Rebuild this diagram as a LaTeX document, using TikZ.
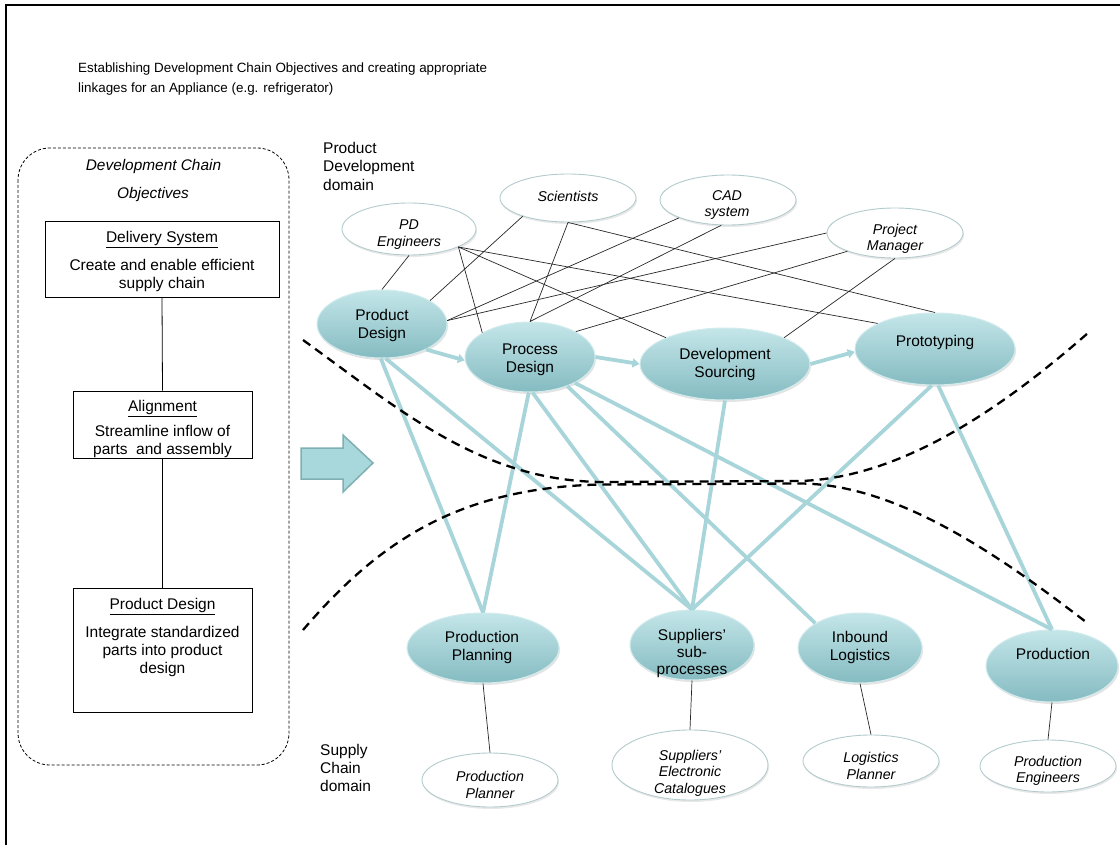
\documentclass[tikz,border=0pt]{standalone}
\usepackage{fontspec}
\setmainfont{Liberation Sans}
\usetikzlibrary{shapes.geometric,arrows.meta,shadows}

\definecolor{teallight}{HTML}{C4E6E9}
\definecolor{tealdark}{HTML}{84BBC1}
\definecolor{tealrim}{HTML}{D2EBED}
\definecolor{tealline}{HTML}{A8D5D9}
\definecolor{arrowfill}{HTML}{A9D8DC}
\definecolor{arrowedge}{HTML}{80AFB3}
\definecolor{ovalrim}{HTML}{B3CBCD}

\begin{document}
\begin{tikzpicture}[x=1pt,y=-1pt,
  tealoval/.style={ellipse, inner sep=0, top color=teallight, bottom color=tealdark,
    draw=tealrim, line width=1,
    drop shadow={opacity=0.22, shadow xshift=1pt, shadow yshift=-2pt}},
  whiteoval/.style={ellipse, inner sep=0, fill=white, draw=ovalrim, line width=0.9,
    drop shadow={opacity=0.18, shadow xshift=1pt, shadow yshift=-2pt}},
  tasklabel/.style={font=\fontsize{15.5}{18}\selectfont, align=center, inner sep=0},
  rolelabel/.style={font=\fontsize{14.2}{16.5}\selectfont\itshape, align=center, inner sep=0},
  plain/.style={font=\fontsize{15.5}{18.5}\selectfont, align=left, inner sep=0},
  boxhead/.style={font=\fontsize{15.5}{18}\selectfont, inner sep=0, anchor=base},
  boxbody/.style={font=\fontsize{15.5}{18}\selectfont, align=center, inner sep=0},
  objbox/.style={draw, line width=0.8, inner sep=0},
  link/.style={black!85, line width=0.7},
  flow/.style={tealline, line width=3.8},
  flowarrow/.style={flow, -{Triangle[length=7pt,width=9pt]}},
  boundary/.style={line width=2.3, dash pattern=on 9pt off 6pt}
]
\useasboundingbox (0,0) rectangle (1120,845);

% outer frame (top and left edges)
\draw[line width=2] (6,845) -- (6,5) -- (1120,5);

% heading
\node[plain, font=\fontsize{13.4}{20}\selectfont, anchor=west] (title) at (78,79.5)
  {Establishing Development Chain Objectives and creating appropriate\\linkages for an Appliance (e.g. refrigerator)};

% ---------- development chain objectives ----------
\draw[line width=0.8, dash pattern=on 3pt off 2pt, rounded corners=32] (18,148) rectangle (289,765);
\node[font=\fontsize{15.4}{18}\selectfont\itshape, anchor=base, inner sep=0] (dco1) at (153.5,170.5) {Development Chain};
\node[font=\fontsize{15.4}{18}\selectfont\itshape, anchor=base, inner sep=0] (dco2) at (153,198.5) {Objectives};

\node[objbox, minimum width=234, minimum height=76] (b1) at (162,259) {};
\node[objbox, minimum width=179, minimum height=67] (b2) at (162.5,424.5) {};
\node[objbox, minimum width=179, minimum height=124] (b3) at (162.5,650) {};
\draw[line width=0.8] (b1.south) -- (b2.north);
\draw[line width=0.8] (b2.south) -- (b3.north);

\node[boxhead] (b1h) at (162,242.5) {\underline{Delivery System}};
\node[boxbody] (b1t) at (162,275) {Create and enable efficient\\supply chain};
\node[boxhead] (b2h) at (162.5,411.5) {\underline{Alignment}};
\node[boxbody, font=\fontsize{15.5}{18.5}\selectfont] (b2t) at (162.5,441.5) {Streamline inflow of\\parts\ \ and assembly};
\node[boxhead] (b3h) at (162.5,609.5) {\underline{Product Design}};
\node[boxbody] (b3t) at (162.5,651.5) {Integrate standardized\\parts into product\\design};

% block arrow towards the network
\draw[fill=arrowfill, draw=arrowedge, line width=1.5, line join=miter]
  (301,448) -- (343,448) -- (343,435) -- (373,463) -- (343,492) -- (343,479) -- (301,479) -- cycle;

% domain captions
\node[plain, anchor=west] (pddom) at (323,166) {Product\\Development\\domain};
\node[plain, font=\fontsize{15.5}{18}\selectfont, anchor=west] (scdom) at (320,767.5) {Supply\\Chain\\domain};

% ---------- actors (product development) ----------
\node[whiteoval, minimum width=134, minimum height=52] (pde) at (409,229) {};
\node[whiteoval, minimum width=136, minimum height=48] (sci) at (568,198) {};
\node[whiteoval, minimum width=136, minimum height=50] (cad) at (728,200) {};
\node[whiteoval, minimum width=136, minimum height=50] (pm) at (895,233) {};

% ---------- product development activities ----------
\node[tealoval, minimum width=130, minimum height=68] (pd) at (382,324) {};
\node[tealoval, minimum width=130, minimum height=70] (prd) at (530,357) {};
\node[tealoval, minimum width=170, minimum height=72] (dev) at (725,364) {};
\node[tealoval, minimum width=160, minimum height=72] (proto) at (935,349) {};

% ---------- supply chain activities ----------
\node[tealoval, minimum width=152, minimum height=70] (pp) at (483,648) {};
\node[tealoval, minimum width=124, minimum height=70] (sup) at (692,645) {};
\node[tealoval, minimum width=124, minimum height=70] (inb) at (860,648) {};
\node[tealoval, minimum width=132, minimum height=72] (prod) at (1052,666) {};

% ---------- actors (supply chain) ----------
\node[whiteoval, minimum width=136, minimum height=54] (ppl) at (490,780) {};
\node[whiteoval, minimum width=156, minimum height=70] (cat) at (690,765) {};
\node[whiteoval, minimum width=136, minimum height=52] (lp) at (871,761) {};
\node[whiteoval, minimum width=136, minimum height=52] (pe) at (1048,766) {};

% actor links to development activities
\draw[link] (pde.south) -- (pd.north);
\draw[link] (pde.-20.6) -- (prd.153);
\draw[link] (pde.-20.6) -- (dev.156);
\draw[link] (pde.-20.6) -- (proto.156);
\draw[link] (sci.202) -- (pd.26);
\draw[link] (sci.south) -- (prd.north);
\draw[link] (sci.south) -- (proto.north);
\draw[link] (cad.200) -- (pd.3);
\draw[link] (cad.255) -- (prd.north);
\draw[link] (pm.west) -- (pd.3);
\draw[link] (pm.201) -- (prd.29);
\draw[link] (pm.south) -- (dev.24);

% development sequence
\draw[flowarrow] (pd.-30) -- (prd.183);
\draw[flowarrow] (prd.east) -- (dev.west);
\draw[flowarrow] (dev.east) -- (proto.182);

% development to supply chain linkages
\draw[flow] (pd.-92) -- (pp.north);
\draw[flow] (pd.-84) -- (sup.north);
\draw[flow] (prd.-92) -- (pp.north);
\draw[flow] (prd.-86) -- (sup.north);
\draw[flow] (prd.-38) -- (inb.151);
\draw[flow] (prd.-30) -- (prod.north);
\draw[flow] (dev.south) -- (sup.north);
\draw[flow] (proto.-95) -- (sup.north);
\draw[flow] (proto.-85) -- (prod.north);

% supply chain actors
\draw[link] (pp.south) -- (ppl.north);
\draw[link] (sup.south) -- (cat.north);
\draw[link] (inb.south) -- (lp.north);
\draw[link] (prod.south) -- (pe.north);

% labels
\node[rolelabel] (pdeT) at (409,234.5) {PD\\Engineers};
\node[rolelabel] (sciT) at (568,196.5) {Scientists};
\node[rolelabel] (cadT) at (727,205) {CAD\\system};
\node[rolelabel] (pmT) at (895,239) {Project\\Manager};
\node[tasklabel] (pdT) at (382,325.5) {Product\\Design};
\node[tasklabel] (prdT) at (530,360) {Process\\Design};
\node[tasklabel] (devT) at (725,364.5) {Development\\Sourcing};
\node[tasklabel] (protoT) at (935,342) {Prototyping};
\node[tasklabel] (ppT) at (482,647.5) {Production\\Planning};
\node[tasklabel, font=\fontsize{15.5}{17}\selectfont] (supT) at (692,653) {Suppliers'\\sub-\\processes};
\node[tasklabel] (inbT) at (860,647) {Inbound\\Logistics};
\node[tasklabel] (prodT) at (1053,654) {Production};
\node[rolelabel] (pplT) at (490,785) {Production\\Planner};
\node[rolelabel] (catT) at (690,773) {Suppliers'\\Electronic\\Catalogues};
\node[rolelabel] (lpT) at (871,766) {Logistics\\Planner};
\node[rolelabel] (peT) at (1048,771) {Production\\Engineers};

% domain boundaries
\draw[boundary] (303,340) .. controls (400,410) and (480,480) .. (600,482)
  -- (800,481) .. controls (900,478) and (1000,410) .. (1088,333);
\draw[boundary] (303,630) .. controls (380,540) and (460,488) .. (600,484.5)
  -- (800,483.5) .. controls (895,484) and (995,552) .. (1086,622);
\end{tikzpicture}
\end{document}
